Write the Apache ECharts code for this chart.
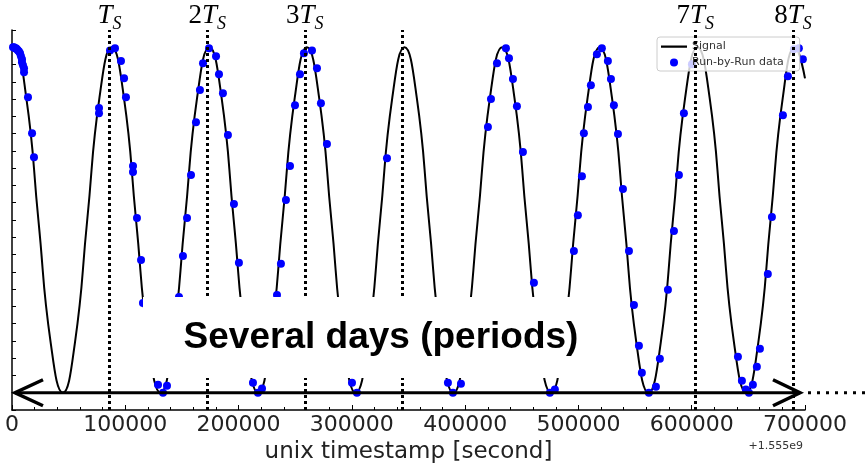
<!DOCTYPE html>
<html lang="en">
<head>
    <meta charset="UTF-8" />
    <title>Signal vs run-by-run data</title>
    <script src="https://cdn.jsdelivr.net/npm/echarts@6/dist/echarts.min.js"></script>
    <style>
        html, body { margin: 0; padding: 0; background: #fff; }
    </style>
</head>
<body>
    <div id="chart" style="width: 866px; height: 471px"></div>
    <script>
        // signal curve (eighth-period samples)
        var sigX = [0, 1800, 12600, 23300, 34100, 44900, 55600, 66400, 77200,
            88000, 98800, 109500, 120300, 131100, 141800, 152600, 163400,
            174200, 185000, 195700, 206500, 217300, 228000, 238800, 249600,
            260300, 271100, 281900, 292600, 303400, 314200, 324900, 335700,
            346500, 357300, 368000, 378800, 389600, 400300, 411100, 421900,
            432700, 443500, 454200, 465000, 475800, 486500, 497300, 508100,
            518800, 529600, 540400, 551100, 561900, 572700, 583400, 594200,
            605000, 615800, 626500, 637300, 648100, 658800, 669600, 680400,
            691100, 700000];
        var sigY = [0.996, 1, 0.854, 0.5, 0.146, 0, 0.146, 0.5, 0.854,
            1, 0.854, 0.5, 0.146, 0, 0.146, 0.5, 0.854,
            1, 0.854, 0.5, 0.146, 0, 0.146, 0.5, 0.854,
            1, 0.854, 0.5, 0.146, 0, 0.146, 0.5, 0.854,
            1, 0.854, 0.5, 0.146, 0, 0.146, 0.5, 0.854,
            1, 0.854, 0.5, 0.146, 0, 0.146, 0.5, 0.854,
            1, 0.854, 0.5, 0.146, 0, 0.146, 0.5, 0.854,
            1, 0.854, 0.5, 0.146, 0, 0.146, 0.5, 0.854,
            1, 0.91];

        // run-by-run points
        var runX = [900, 1800, 2600, 3500, 4400, 5300, 6200, 7100, 7900, 8800, 8800, 9700, 10600, 10600, 14100, 17700, 19400,
            76800, 76800, 86500, 90900, 96200, 98900, 100600, 106800, 106800, 110300, 113900, 115600,
            128900, 133300, 136800,
            147400, 150900, 154500, 158000, 162400, 165900, 168600, 173900, 180100, 182700, 186200, 190600, 195900, 200300,
            212700, 217100, 220700,
            233900, 237400, 241800, 245400, 249800, 254200, 257700, 264800, 269200, 272700, 278000,
            300100, 304500,
            331000,
            384800, 389200, 396300,
            420100, 422800, 428100, 436000, 438700, 442200, 445700, 451000, 460700,
            474800, 479200,
            496000, 499500, 503100, 504800, 508400, 511000, 516300, 520700, 526000, 528700, 531300, 534900,
            539300, 544600, 549000, 553400, 556000, 562200, 568400, 571900,
            579000, 584300, 588700, 593100, 600200,
            640800, 644300, 647800, 650500, 654000, 657500, 660200,
            667200, 670800, 680500, 684900, 690200, 694600, 698100];
        var runY = [1.0, 1.0, 0.997, 0.997, 0.994, 0.991, 0.988, 0.983, 0.974, 0.965, 0.957, 0.948, 0.939, 0.928, 0.855, 0.751, 0.682,
            0.824, 0.809, 0.991, 0.997, 0.96, 0.91, 0.855, 0.656, 0.639, 0.506, 0.384, 0.26,
            0.023, 0.0, 0.02,
            0.277, 0.396, 0.506, 0.63, 0.783, 0.876, 0.954, 0.997, 0.974, 0.922, 0.867, 0.746, 0.546, 0.376,
            0.029, 0.0, 0.012,
            0.283, 0.373, 0.558, 0.656, 0.832, 0.922, 0.983, 0.991, 0.939, 0.838, 0.72,
            0.029, 0.0,
            0.679,
            0.029, 0.0, 0.026,
            0.769, 0.85, 0.954, 0.997, 0.968, 0.908, 0.829, 0.697, 0.318,
            0.0, 0.009,
            0.41, 0.514, 0.627, 0.751, 0.827, 0.89, 0.98, 0.997, 0.96, 0.908, 0.832, 0.749,
            0.59, 0.41, 0.254, 0.136, 0.058, 0.0, 0.017, 0.098,
            0.298, 0.468, 0.63, 0.809, 0.951,
            0.104, 0.035, 0.009, 0.0, 0.023, 0.075, 0.127,
            0.344, 0.509, 0.803, 0.916, 0.994, 0.997, 0.965];

        // sidereal period markers
        var periodX = [86164, 172328, 258492, 344656, 603148, 689312];
        var periodLabels = ['', '2', '3', null, '7', '8'];

        var xTicks = [0, 100000, 200000, 300000, 400000, 500000, 600000, 700000];

        var sigData = sigX.map(function (x, i) { return [x, sigY[i]]; });
        var runData = runX.map(function (x, i) { return [x, runY[i]]; });

        var markData = periodX.map(function (x, i) {
            var lab = periodLabels[i];
            return {
                xAxis: x,
                label: lab === null ? { show: false } : {
                    show: true,
                    formatter: (lab ? '{n|' + lab + '}' : '') + '{t|T}{s|S}'
                }
            };
        });

        var chart = echarts.init(document.getElementById('chart'));

        var option = {
            animation: false,
            backgroundColor: '#fff',
            grid: { left: 12, right: 61, top: 30, bottom: 61 },
            legend: {
                orient: 'vertical',
                left: 657,
                top: 37,
                itemWidth: 26,
                itemHeight: 8,
                itemGap: 5,
                padding: [4, 16, 3, 4],
                backgroundColor: 'rgba(255,255,255,0.8)',
                borderColor: '#ccc',
                borderWidth: 1,
                borderRadius: 3,
                textStyle: { fontFamily: 'DejaVu Sans', fontSize: 11, color: '#333' },
                data: [
                    { name: 'Signal', icon: 'path://M0,0 L0.01,0 L0,0.01 Z M0,3 L26,3 L26,5.2 L0,5.2 Z M26,8 L25.99,8 L26,7.99 Z' },
                    { name: 'Run-by-Run data', icon: 'circle' }
                ]
            },
            xAxis: {
                type: 'value',
                min: xTicks[0],
                max: xTicks[xTicks.length - 1],
                interval: 100000,
                name: 'unix timestamp [second]',
                nameLocation: 'middle',
                nameGap: 29,
                nameTextStyle: { fontFamily: 'DejaVu Sans', fontSize: 23, color: '#222' },
                axisLine: { onZero: false, lineStyle: { color: '#000', width: 1.5 } },
                axisTick: { inside: true, length: 5, lineStyle: { color: '#000' } },
                minorTick: { show: true, splitNumber: 5, length: 3, lineStyle: { color: '#000' } },
                axisLabel: {
                    fontFamily: 'DejaVu Sans', fontSize: 22, color: '#222', margin: 4,
                    formatter: function (v) { return String(v); }
                },
                splitLine: { show: false }
            },
            yAxis: {
                type: 'value',
                min: -0.05,
                max: 1.05,
                interval: 0.05,
                axisLine: { show: true, lineStyle: { color: '#000', width: 1.5 } },
                axisTick: { show: true, inside: true, length: 4, lineStyle: { color: '#000' } },
                axisLabel: { show: false },
                splitLine: { show: false }
            },
            series: [
                {
                    name: 'Signal',
                    type: 'line',
                    data: sigData,
                    smooth: true,
                    symbol: 'none',
                    lineStyle: { color: '#000', width: 2 },
                    itemStyle: { color: '#000' },
                    z: 2,
                    markLine: {
                        silent: true,
                        symbol: 'none',
                        lineStyle: { color: '#000', width: 3, type: [3, 3] },
                        label: {
                            position: 'end',
                            distance: -3,
                            rich: {
                                n: { fontFamily: 'Liberation Serif', fontSize: 27, color: '#000' },
                                t: { fontFamily: 'Liberation Serif', fontStyle: 'italic', fontSize: 27, color: '#000' },
                                s: { fontFamily: 'Liberation Serif', fontStyle: 'italic', fontSize: 18, color: '#000', padding: [16, 0, 0, 0] }
                            }
                        },
                        data: markData
                    }
                },
                {
                    name: 'Run-by-Run data',
                    type: 'scatter',
                    data: runData,
                    symbolSize: 8,
                    itemStyle: { color: '#0000ff', opacity: 1 },
                    z: 3
                }
            ]
        };
        chart.setOption(option);

        // overlay: double arrow along the baseline, note box, offset text
        var y0 = chart.convertToPixel({ gridIndex: 0 }, [0, 0])[1];
        var xl = chart.convertToPixel({ gridIndex: 0 }, [0, 0])[0] + 3;
        var xr = chart.convertToPixel({ gridIndex: 0 }, [700000, 0])[0] - 5;
        var axisY = chart.convertToPixel({ gridIndex: 0 }, [0, -0.05])[1];

        chart.setOption({
            graphic: [
                {
                    type: 'rect', z: 100,
                    shape: { x: 143, y: 297, width: 455, height: 81 },
                    style: { fill: '#fff' }
                },
                {
                    type: 'text', z: 101,
                    x: 381, y: 338,
                    style: {
                        text: 'Several days (periods)',
                        font: 'bold 37px "Liberation Sans", Arial, sans-serif',
                        fill: '#000', align: 'center', verticalAlign: 'middle'
                    }
                },
                {
                    type: 'line', z: 50,
                    shape: { x1: xl, y1: y0, x2: xr, y2: y0 },
                    style: { stroke: '#000', lineWidth: 3 }
                },
                {
                    type: 'polyline', z: 50,
                    shape: { points: [[xl + 28, y0 - 13], [xl, y0], [xl + 28, y0 + 13]] },
                    style: { stroke: '#000', lineWidth: 3.5, fill: null }
                },
                {
                    type: 'polyline', z: 50,
                    shape: { points: [[xr - 27, y0 - 13], [xr, y0], [xr - 27, y0 + 13]] },
                    style: { stroke: '#000', lineWidth: 3.5, fill: null }
                },
                {
                    type: 'line', z: 50,
                    shape: { x1: xr + 8, y1: y0, x2: 866, y2: y0 },
                    style: { stroke: '#000', lineWidth: 3, lineDash: [3, 6] }
                },
                {
                    type: 'text', z: 50,
                    x: xr + 3, y: axisY + 36,
                    style: {
                        text: '+1.555e9',
                        font: '11px "DejaVu Sans", sans-serif',
                        fill: '#333', align: 'right', verticalAlign: 'middle'
                    }
                }
            ]
        });
    </script>
</body>
</html>
